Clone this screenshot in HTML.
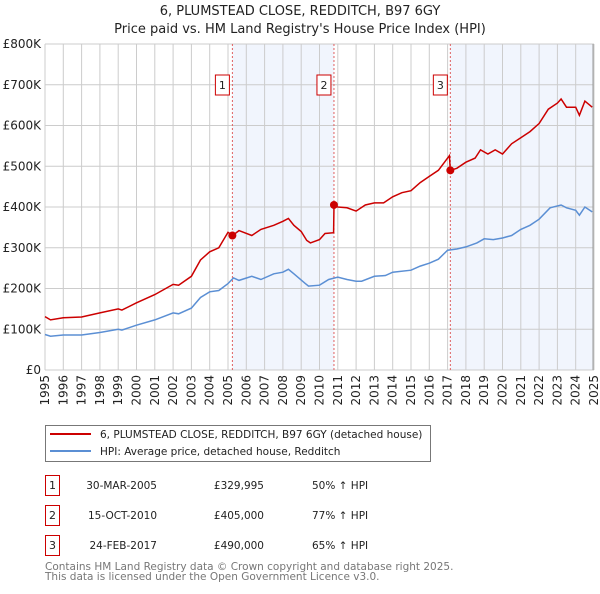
<!DOCTYPE html>
<html><head><meta charset="utf-8"><style>
body{margin:0;background:#fff;font-family:"DejaVu Sans","Liberation Sans",sans-serif;}
svg text{font-family:"DejaVu Sans","Liberation Sans",sans-serif;}
</style></head><body>
<svg id="c" width="600" height="590" xmlns="http://www.w3.org/2000/svg"></svg>
<script>
const hpiYears=[1995,1995.3,1996,1997,1998,1999,1999.2,2000,2001,2002,2002.3,2003,2003.5,2004,2004.5,2005,2005.3,2005.6,2006.3,2006.8,2007.5,2008,2008.3,2008.6,2009.2,2009.4,2010,2010.5,2011,2011.5,2012,2012.3,2013,2013.6,2014,2015,2015.5,2016,2016.5,2017,2017.5,2018,2018.6,2019,2019.5,2020,2020.5,2021,2021.5,2022,2022.6,2023.2,2023.5,2024,2024.2,2024.5,2024.9];
const hpiValues=[87,83,86,86,92,100,98,110,123,140,138,152,178,192,195,212,226,220,230,222,236,240,247,236,213,206,208,222,228,222,218,218,230,232,240,245,255,262,272,294,297,302,312,322,320,324,330,345,355,370,398,405,398,392,380,400,388];
const priceYears=[1995,1995.3,1996,1997,1998,1999,1999.2,2000,2001,2002,2002.3,2003,2003.5,2004,2004.5,2005,2005.25,2005.6,2006.3,2006.8,2007.5,2008,2008.3,2008.6,2009,2009.3,2009.5,2010,2010.3,2010.77,2010.79,2011,2011.5,2012,2012.5,2013,2013.5,2014,2014.5,2015,2015.5,2016,2016.5,2017.1,2017.15,2017.5,2018,2018.5,2018.8,2019.2,2019.6,2020,2020.5,2021,2021.5,2022,2022.5,2023,2023.2,2023.5,2024,2024.2,2024.5,2024.9];
const priceValues=[131,123,128,130,140,150,147,165,185,210,208,230,270,290,300,338,330,342,330,345,355,365,372,355,340,318,312,320,335,337,405,400,398,390,405,410,410,425,435,440,460,475,490,526,490,495,510,520,540,530,540,530,555,570,585,605,640,655,665,645,645,625,660,645];
const saleYears=[2005.24,2010.79,2017.15];
const salePrices=[329.995,405,490];
const saleLabels=["1","2","3"];
const yTicks=[0,100,200,300,400,500,600,700,800];
const yTickLabels=["£0","£100K","£200K","£300K","£400K","£500K","£600K","£700K","£800K"];
const xTicks=[];for(let y=1995;y<=2025;y++)xTicks.push(y);

const X0=45,X1=594,Y0=370,Y1=44;
const xs=v=>X0+(v-1995)/30*(X1-X0);
const ys=v=>Y0-v/800*(Y0-Y1);
const svg=document.getElementById('c');
const NS='http://www.w3.org/2000/svg';
function mk(t,a,txt){const e=document.createElementNS(NS,t);for(const k in a)e.setAttribute(k,a[k]);if(txt!==undefined)e.textContent=txt;svg.appendChild(e);return e;}

let t=mk('text',{x:300,y:15,'text-anchor':'middle','font-size':13,fill:'#222'},'6, PLUMSTEAD CLOSE, REDDITCH, B97 6GY');

t=mk('text',{x:300,y:33,'text-anchor':'middle','font-size':13,fill:'#222'},"Price paid vs. HM Land Registry's House Price Index (HPI)");


let r=mk('rect',{x:xs(saleYears[0]),y:Y1,width:xs(saleYears[1])-xs(saleYears[0]),height:Y0-Y1,fill:'#eef2fc',opacity:0.8});

r=mk('rect',{x:xs(saleYears[2]),y:Y1,width:X1-xs(saleYears[2]),height:Y0-Y1,fill:'#eef2fc',opacity:0.8});


xTicks.forEach(v=>{const l=mk('line',{x1:xs(v),x2:xs(v),y1:Y1,y2:Y0,stroke:'#ccc','stroke-width':1});

const tx=mk('text',{transform:`translate(${xs(v)+4},${Y0+5}) rotate(-90)`,'text-anchor':'end','font-size':12,fill:'#222'},String(v));
});
yTicks.forEach((v,i)=>{const l=mk('line',{x1:X0,x2:X1,y1:ys(v),y2:ys(v),stroke:'#ccc','stroke-width':1});

const tx=mk('text',{x:X0-4,y:ys(v)+4,'text-anchor':'end','font-size':12,fill:'#222'},yTickLabels[i]);
});
let bd=mk('line',{x1:X1-1,x2:X1-1,y1:Y1,y2:Y0,stroke:'#999','stroke-width':1});


saleYears.forEach((v,i)=>{const l=mk('line',{x1:xs(v),x2:xs(v),y1:Y1,y2:Y0,stroke:'#e06060','stroke-width':1,'stroke-dasharray':'2,2'});

const b=mk('rect',{x:xs(v)-17,y:75,width:14,height:20,fill:'#fff',stroke:'#c00','stroke-width':1});

const tx=mk('text',{x:xs(v)-10,y:89,'text-anchor':'middle','font-size':11,fill:'#222'},saleLabels[i]);
});

function pts(xa,va){return xa.map((x,i)=>xs(x).toFixed(1)+','+ys(va[i]).toFixed(1)).join(' ');}
let p=mk('polyline',{points:pts(hpiYears,hpiValues),fill:'none',stroke:'#5b8fd4','stroke-width':1.5});

p=mk('polyline',{points:pts(priceYears,priceValues),fill:'none',stroke:'#cc0000','stroke-width':1.5});

saleYears.forEach((v,i)=>{const c=mk('circle',{cx:xs(v),cy:ys(salePrices[i]),r:4,fill:'#cc0000'});
});

let g=mk('rect',{x:45.5,y:425.5,width:385,height:36,fill:'#fff',stroke:'#777'});

let l=mk('line',{x1:50,x2:91,y1:434,y2:434,stroke:'#cc0000','stroke-width':2});

l=mk('line',{x1:50,x2:91,y1:451,y2:451,stroke:'#5b8fd4','stroke-width':2});

t=mk('text',{x:100,y:438,'font-size':10.5,fill:'#222'},'6, PLUMSTEAD CLOSE, REDDITCH, B97 6GY (detached house)');

t=mk('text',{x:100,y:455,'font-size':10.5,fill:'#222'},'HPI: Average price, detached house, Redditch');


const dates=["30-MAR-2005","15-OCT-2010","24-FEB-2017"];
const prices=["£329,995","£405,000","£490,000"];
const pcts=["50% ↑ HPI","77% ↑ HPI","65% ↑ HPI"];
[0,1,2].forEach(i=>{const y=475+i*30;
const b=mk('rect',{x:45.5,y:y+0.5,width:14,height:20,fill:'#fff',stroke:'#c00'});

let tx=mk('text',{x:52.5,y:y+14,'text-anchor':'middle','font-size':11,fill:'#222'},saleLabels[i]);

tx=mk('text',{x:157,y:y+14,'text-anchor':'end','font-size':10.5,fill:'#222'},dates[i]);

tx=mk('text',{x:264,y:y+14,'text-anchor':'end','font-size':10.5,fill:'#222'},prices[i]);

tx=mk('text',{x:312,y:y+14,'font-size':10.5,fill:'#222'},pcts[i]);
});
t=mk('text',{x:45,y:570,'font-size':10.5,fill:'#777'},'Contains HM Land Registry data © Crown copyright and database right 2025.');

t=mk('text',{x:45,y:580,'font-size':10.5,fill:'#777'},'This data is licensed under the Open Government Licence v3.0.');

</script>
</body></html>
